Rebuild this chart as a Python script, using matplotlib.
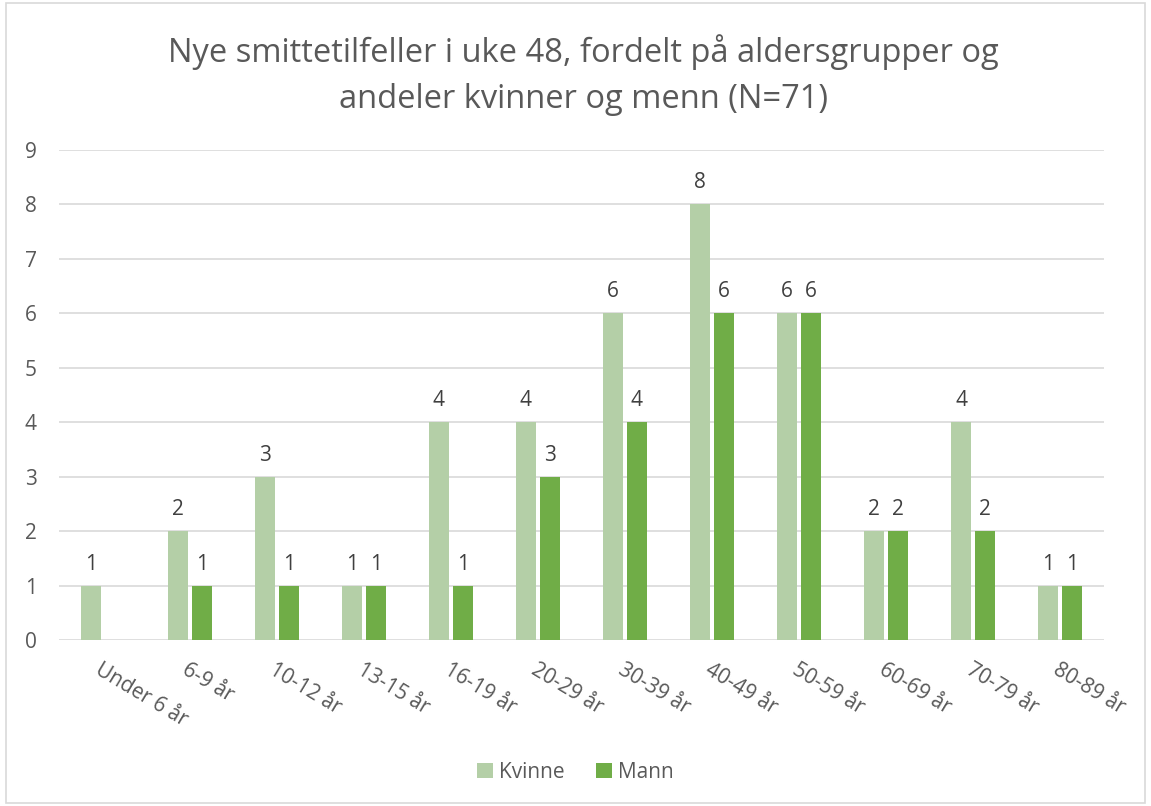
import matplotlib.pyplot as plt
import numpy as np
from matplotlib.patches import Rectangle

plt.rcParams['font.family'] = ['Open Sans', 'DejaVu Sans']

categories = ['Under 6 år', '6-9 år', '10-12 år', '13-15 år', '16-19 år', '20-29 år',
              '30-39 år', '40-49 år', '50-59 år', '60-69 år', '70-79 år', '80-89 år']
kvinne = [1, 2, 3, 1, 4, 4, 6, 8, 6, 2, 4, 1]
mann = [0, 1, 1, 1, 1, 3, 4, 6, 6, 2, 2, 1]

fig = plt.figure(figsize=(11.51, 8.06), dpi=100)
fig.patches.append(Rectangle((0.005, 0.004), 0.99, 0.992, transform=fig.transFigure,
                             fill=False, edgecolor='#d9d9d9', linewidth=1.2))
ax = fig.add_axes([0.0513, 0.206, 0.9077, 0.608])

x = np.arange(len(categories))
w = 0.23
off = 0.138
b1 = ax.bar(x - off, kvinne, width=w, color='#b4cfa7', label='Kvinne', zorder=3)
b2 = ax.bar(x + off, mann, width=w, color='#70ad47', label='Mann', zorder=3)

# verdier over søylene (0 vises ikke)
for bars, vals in [(b1, kvinne), (b2, mann)]:
    for b, v in zip(bars, vals):
        if v > 0:
            ax.text(b.get_x() + b.get_width() / 2, v + 0.2, str(v), ha='center', va='bottom',
                    fontsize=15, color='#404040')

ax.set_xlim(-0.5, len(categories) - 0.5)
ax.set_ylim(0, 9)
ax.set_yticks(range(10))
ax.yaxis.grid(True, color='#d9d9d9', linewidth=1.2, zorder=0)
for s in ax.spines.values():
    s.set_visible(False)
ax.tick_params(axis='both', length=0, labelsize=15, colors='#595959')
ax.tick_params(axis='y', pad=16)
ax.set_xticks(x)
ax.set_xticklabels(categories, rotation=-31, ha='left', va='top', rotation_mode='anchor')
ax.tick_params(axis='x', pad=14)

fig.text(0.507, 0.907, 'Nye smittetilfeller i uke 48, fordelt på aldersgrupper og\nandeler kvinner og menn (N=71)',
         ha='center', va='center', fontsize=23.5, color='#595959', linespacing=1.55)
fig.legend(loc='center', bbox_to_anchor=(0.5, 0.042), ncol=2, frameon=False,
           fontsize=15, labelcolor='#595959', handlelength=0.75, handleheight=0.75,
           columnspacing=1.5, handletextpad=0.3)

fig.savefig('out.png', dpi=100)
